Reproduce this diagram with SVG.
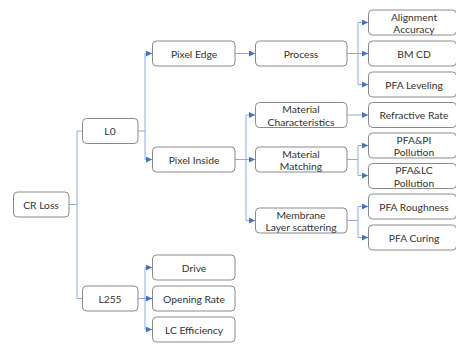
<svg xmlns="http://www.w3.org/2000/svg" width="456" height="346" viewBox="0 0 456 346">
<defs>
<marker id="arr" viewBox="0 0 6 6" refX="6" refY="3" markerWidth="6" markerHeight="6" markerUnits="userSpaceOnUse" orient="auto">
<path d="M0,0 L6,3 L0,6 Z" fill="#4472c4"/>
</marker>
<style>
.b{fill:#fff;stroke:#8a8a8a;stroke-width:1}
.t{font-family:Lato,"Noto Sans",sans-serif;font-size:10.3px;fill:#333;text-anchor:middle;dominant-baseline:central}
.c{fill:none;stroke:#8eaae3;stroke-width:1}
.a{marker-end:url(#arr)}
</style>
</defs>
<rect width="456" height="346" fill="#fff"/>
<g id="connectors">
<path class="c" d="M69,204.5 H77 M77,131 V298.5 M77,131 H82 M77,298.5 H82"/>
<path class="c" d="M138,131 H145 M145,53.5 V159.5"/>
<path class="c a" d="M145,53.5 H152"/>
<path class="c a" d="M145,159.5 H152"/>
<path class="c a" d="M235,53.5 H255"/>
<path class="c" d="M347,53.5 H358 M358,22.5 V84.5"/>
<path class="c a" d="M358,22.5 H368"/>
<path class="c a" d="M358,53.5 H368"/>
<path class="c a" d="M358,84.5 H368"/>
<path class="c" d="M235,159.5 H246 M246,115 V220.5"/>
<path class="c a" d="M246,115 H255"/>
<path class="c a" d="M246,159.5 H255"/>
<path class="c a" d="M246,220.5 H255"/>
<path class="c a" d="M347,115 H368"/>
<path class="c" d="M347,159.5 H358 M358,145.5 V175.5"/>
<path class="c a" d="M358,145.5 H368"/>
<path class="c a" d="M358,175.5 H368"/>
<path class="c" d="M347,220.5 H358 M358,206.5 V237.5"/>
<path class="c a" d="M358,206.5 H368"/>
<path class="c a" d="M358,237.5 H368"/>
<path class="c" d="M138,298.5 H145 M145,267.5 V329.5"/>
<path class="c a" d="M145,267.5 H152"/>
<path class="c a" d="M145,298.5 H152"/>
<path class="c a" d="M145,329.5 H152"/>
</g>
<g id="cr-loss"><rect class="b" x="13.5" y="192" width="55.5" height="25" rx="4"/><text class="t" x="41" y="204.5">CR Loss</text></g>
<g id="l0"><rect class="b" x="82.5" y="118.5" width="55.5" height="25" rx="4"/><text class="t" x="110" y="131">L0</text></g>
<g id="l255"><rect class="b" x="82.5" y="286" width="55.5" height="25" rx="4"/><text class="t" x="110" y="298.5">L255</text></g>
<g id="pixel-edge"><rect class="b" x="152.5" y="41" width="82.5" height="25" rx="4"/><text class="t" x="194" y="53.5">Pixel Edge</text></g>
<g id="pixel-inside"><rect class="b" x="152.5" y="147" width="82.5" height="25" rx="4"/><text class="t" x="194" y="159.5">Pixel Inside</text></g>
<g id="drive"><rect class="b" x="152.5" y="255" width="82.5" height="25" rx="4"/><text class="t" x="194" y="267.5">Drive</text></g>
<g id="opening-rate"><rect class="b" x="152.5" y="286" width="82.5" height="25" rx="4"/><text class="t" x="194" y="298.5">Opening Rate</text></g>
<g id="lc-efficiency"><rect class="b" x="152.5" y="317" width="82.5" height="25" rx="4"/><text class="t" x="194" y="329.5">LC Efficiency</text></g>
<g id="process"><rect class="b" x="255.5" y="41" width="91.5" height="25" rx="4"/><text class="t" x="301" y="53.5">Process</text></g>
<g id="material-characteristics"><rect class="b" x="255.5" y="102.5" width="91.5" height="25" rx="4"/><text class="t" x="301" y="109">Material</text><text class="t" x="301" y="121.5">Characteristics</text></g>
<g id="material-matching"><rect class="b" x="255.5" y="147" width="91.5" height="25" rx="4"/><text class="t" x="301" y="153.5">Material</text><text class="t" x="301" y="166">Matching</text></g>
<g id="membrane"><rect class="b" x="255.5" y="208" width="91.5" height="25" rx="4"/><text class="t" x="301" y="214.5">Membrane</text><text class="t" x="301" y="227">Layer scattering</text></g>
<g id="alignment-accuracy"><rect class="b" x="368.5" y="10" width="88" height="25" rx="4"/><text class="t" x="414" y="16.5">Alignment</text><text class="t" x="414" y="29">Accuracy</text></g>
<g id="bm-cd"><rect class="b" x="368.5" y="41" width="88" height="25" rx="4"/><text class="t" x="414" y="53.5">BM CD</text></g>
<g id="pfa-leveling"><rect class="b" x="368.5" y="72" width="88" height="25" rx="4"/><text class="t" x="414" y="84.5">PFA Leveling</text></g>
<g id="refractive-rate"><rect class="b" x="368.5" y="102.5" width="88" height="25" rx="4"/><text class="t" x="414" y="115">Refractive Rate</text></g>
<g id="pfa-pi"><rect class="b" x="368.5" y="133" width="88" height="25" rx="4"/><text class="t" x="414" y="139.5">PFA&amp;PI</text><text class="t" x="414" y="152">Pollution</text></g>
<g id="pfa-lc"><rect class="b" x="368.5" y="163.5" width="88" height="25" rx="4"/><text class="t" x="414" y="170">PFA&amp;LC</text><text class="t" x="414" y="182.5">Pollution</text></g>
<g id="pfa-roughness"><rect class="b" x="368.5" y="194" width="88" height="25" rx="4"/><text class="t" x="414" y="206.5">PFA Roughness</text></g>
<g id="pfa-curing"><rect class="b" x="368.5" y="225" width="88" height="25" rx="4"/><text class="t" x="414" y="237.5">PFA Curing</text></g>
</svg>
